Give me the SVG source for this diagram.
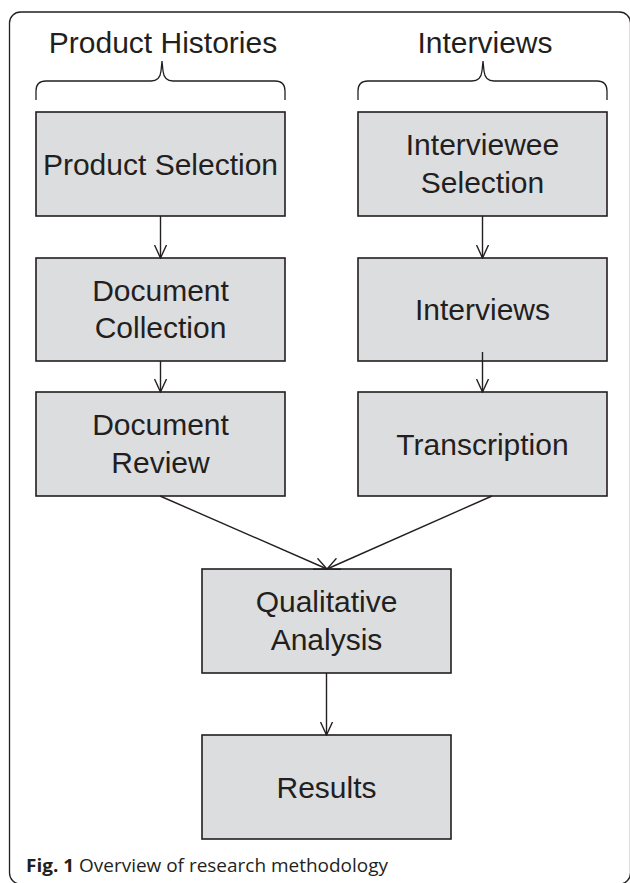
<svg xmlns="http://www.w3.org/2000/svg" width="630" height="883" viewBox="0 0 630 883">
<defs>
<style>
.box{fill:#dcdddf;stroke:#231f20;stroke-width:1.6}
.t{font-family:"Liberation Sans",Arial,sans-serif;font-size:30px;fill:#231f20;text-anchor:middle}
.c{stroke:#231f20;stroke-width:1.4;fill:none}
.brace{stroke:#231f20;stroke-width:1.3;fill:none}
.cap{font-family:"Open Sans","Noto Sans",sans-serif;font-size:18.5px;fill:#231f20}
</style>
<marker id="arr" viewBox="0 0 14 14" refX="13" refY="7" markerWidth="14" markerHeight="14" markerUnits="userSpaceOnUse" orient="auto">
<path d="M0,1 L13,7 L0,13" fill="none" stroke="#231f20" stroke-width="1.4"/>
</marker>
</defs>
<rect x="9.5" y="12" width="621" height="872" rx="11" fill="none" stroke="#231f20" stroke-width="1.3"/>
<g id="header-product-histories">
<text class="t" x="163" y="53">Product Histories</text>
<path class="brace" d="M36,100 L36,91 Q36,81 46,81 L151,81 Q160,81 161,71 L162,61 L163,71 Q164,81 173,81 L275,81 Q285,81 285,91 L285,100"/>
</g>
<g id="header-interviews">
<text class="t" x="485" y="53">Interviews</text>
<path class="brace" d="M358,100 L358,91 Q358,81 368,81 L472,81 Q481,81 482,71 L483,61 L484,71 Q485,81 494,81 L597,81 Q607,81 607,91 L607,100"/>
</g>
<g id="product-selection">
<rect class="box" x="36" y="112" width="249" height="104"/>
<text class="t" x="160.5" y="175">Product Selection</text>
</g>
<g id="document-collection">
<rect class="box" x="36" y="258" width="249" height="103"/>
<text class="t" x="160.5" y="300.5">Document</text>
<text class="t" x="160.5" y="338">Collection</text>
</g>
<g id="document-review">
<rect class="box" x="36" y="392" width="249" height="104"/>
<text class="t" x="160.5" y="435">Document</text>
<text class="t" x="160.5" y="472.5">Review</text>
</g>
<g id="interviewee-selection">
<rect class="box" x="358" y="112" width="249" height="104"/>
<text class="t" x="482.5" y="155">Interviewee</text>
<text class="t" x="482.5" y="192.5">Selection</text>
</g>
<g id="interviews">
<rect class="box" x="358" y="258" width="249" height="103"/>
<text class="t" x="482.5" y="320">Interviews</text>
</g>
<g id="transcription">
<rect class="box" x="358" y="392" width="249" height="104"/>
<text class="t" x="482.5" y="455">Transcription</text>
</g>
<g id="qualitative-analysis">
<rect class="box" x="202" y="569" width="249" height="104"/>
<text class="t" x="326.5" y="612">Qualitative</text>
<text class="t" x="326.5" y="649.5">Analysis</text>
</g>
<g id="results">
<rect class="box" x="202" y="735" width="249" height="104"/>
<text class="t" x="326.5" y="798">Results</text>
</g>
<g id="connectors">
<path class="c" d="M160.5,216 L160.5,258" marker-end="url(#arr)"/>
<path class="c" d="M160.5,361 L160.5,392" marker-end="url(#arr)"/>
<path class="c" d="M482.5,216 L482.5,258" marker-end="url(#arr)"/>
<path class="c" d="M482.5,352 L482.5,392" marker-end="url(#arr)"/>
<path class="c" d="M160,496 L327,569" marker-end="url(#arr)"/>
<path class="c" d="M492,496 L327,569" marker-end="url(#arr)"/>
<path class="c" d="M326.5,673 L326.5,735" marker-end="url(#arr)"/>
</g>
<text class="cap" x="26" y="872" textLength="362" lengthAdjust="spacingAndGlyphs"><tspan font-weight="bold">Fig. 1</tspan> Overview of research methodology</text>
</svg>
